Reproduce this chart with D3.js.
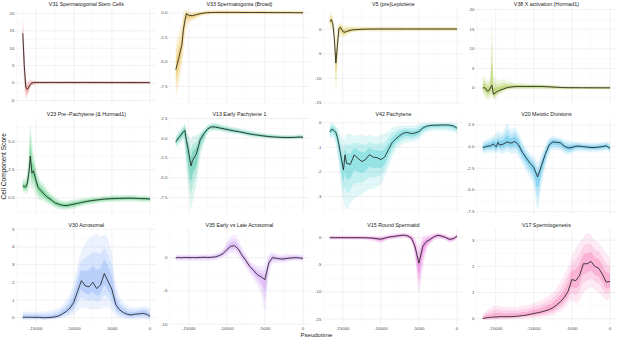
<!DOCTYPE html>
<html><head><meta charset="utf-8">
<script src="https://cdn.jsdelivr.net/npm/d3@7"></script>
<style>body{margin:0;background:#fff} svg{display:block}</style>
</head><body>
<script>
// ---------------- DATA ----------------
const pseudotime = [-16700,-16500,-16300,-16100,-15900,-15700,-15500,-15300,-15100,-14900,-14700,-14500,-14000,-13500,-13000,-12500,-12000,-11500,-11000,-10500,-10000,-9500,-9000,-8500,-8000,-7500,-7000,-6500,-6000,-5500,-5000,-4500,-4000,-3500,-3000,-2500,-2000,-1500,-1000,-500,0];
const xTicks = [-15000,-10000,-5000,0];

const titles = ["V31 Spermatogonial Stem Cells","V33 Spermatogonia (Broad)","V5 (pre)Leptotene","V38 X activation (Hormad1)",
"V23 Pre\u2212Pachytene (& Hormad1)","V13 Early Pachytene 1","V42 Pachytene","V20 Meiotic Divisions",
"V30 Acrosomal","V35 Early vs Late Acrosomal","V15 Round Spermatid","V17 Spermiogenesis"];

const colors = ["#d8463c","#e2a000","#c9b000","#86b400","#00b43c","#00b184","#1fc4c6","#0aa8e4","#6a9ef8","#c07cf0","#e040d4","#f55fa8"];

// smoothed score (line), lower / upper spread of the cell cloud
const v31Line=[14.3,5.0,-1.2,-1.8,-1.2,-0.4,0.0,0.1,0.15,0.15,0.16,0.16,0.15,0.15,0.16,0.16,0.15,0.15,0.16,0.16,0.15,0.15,0.16,0.16,0.15,0.15,0.15,0.15,0.15,0.14,0.14,0.14,0.14,0.13,0.13,0.12,0.12,0.12,0.12,0.12,0.1];
const v31Lo=[6,-1,-4.7,-4.0,-2.8,-1.5,-0.9,-0.7,-0.6,-0.5,-0.45,-0.4,-0.4,-0.4,-0.4,-0.4,-0.4,-0.4,-0.4,-0.4,-0.4,-0.4,-0.4,-0.4,-0.4,-0.4,-0.4,-0.4,-0.4,-0.4,-0.4,-0.4,-0.4,-0.4,-0.4,-0.38,-0.38,-0.38,-0.38,-0.36,-0.35];
const v31Hi=[20.3,12,2.0,0.5,0.8,0.9,0.8,0.7,0.65,0.6,0.6,0.6,0.6,0.6,0.6,0.6,0.6,0.6,0.6,0.6,0.6,0.6,0.6,0.6,0.6,0.6,0.6,0.6,0.6,0.6,0.55,0.55,0.55,0.55,0.55,0.55,0.55,0.55,0.55,0.55,0.5];

const v33Line=[-5.8,-5.2,-4.6,-3.9,-3.3,-1.7,-0.8,-0.05,-0.2,-0.26,-0.27,-0.27,-0.17,-0.08,0.0,0.03,0.05,0.05,0.06,0.06,0.06,0.06,0.06,0.06,0.05,0.05,0.05,0.05,0.05,0.05,0.05,0.05,0.04,0.04,0.04,0.04,0.04,0.04,0.03,0.03,0.03];
const v33Lo=[-8.7,-8.0,-7.5,-6.5,-5.5,-4.0,-2.5,-1.6,-1.2,-1.0,-0.9,-0.85,-0.6,-0.4,-0.25,-0.2,-0.15,-0.15,-0.15,-0.15,-0.15,-0.15,-0.15,-0.15,-0.15,-0.15,-0.15,-0.15,-0.15,-0.15,-0.15,-0.15,-0.15,-0.15,-0.15,-0.15,-0.15,-0.15,-0.16,-0.16,-0.17];
const v33Hi=[-3.0,-2.5,-2.0,-1.5,-1.0,0.1,0.3,0.3,0.2,0.1,0.1,0.1,0.15,0.2,0.25,0.3,0.3,0.3,0.3,0.3,0.3,0.3,0.3,0.3,0.28,0.28,0.28,0.28,0.28,0.28,0.26,0.26,0.26,0.26,0.26,0.25,0.25,0.25,0.25,0.25,0.25];

const v5Line=[1.55,1.9,1.1,-2.0,-6.9,-3.5,0.1,0.35,-0.2,-0.6,-0.65,-0.5,-0.27,-0.15,-0.1,-0.06,-0.03,-0.02,-0.01,0,0,0,0,0,0,0,0,0,0,0,0,0,0,0,0,0,0,0,0,0,0];
const v5Lo=[0.0,0.3,-0.5,-5.0,-12.5,-9.0,-2.5,-1.5,-1.6,-1.8,-1.6,-1.3,-0.9,-0.7,-0.6,-0.5,-0.5,-0.5,-0.5,-0.5,-0.5,-0.5,-0.5,-0.5,-0.5,-0.5,-0.45,-0.45,-0.45,-0.45,-0.45,-0.45,-0.45,-0.45,-0.45,-0.45,-0.45,-0.45,-0.45,-0.45,-0.45];
const v5Hi=[3.38,3.0,2.5,1.0,-1.5,0.0,1.2,1.2,1.0,0.8,0.7,0.7,0.6,0.55,0.5,0.5,0.5,0.5,0.5,0.5,0.5,0.5,0.5,0.5,0.5,0.5,0.45,0.45,0.45,0.45,0.45,0.45,0.45,0.45,0.45,0.45,0.45,0.45,0.45,0.45,0.45];

const v38Line=[0.0,0.1,-0.2,-0.8,-0.7,0.0,0.7,-1.6,-1.3,-1.0,-0.8,-0.6,-0.25,0.1,0.25,0.35,0.4,0.4,0.4,0.4,0.4,0.4,0.4,0.35,0.3,0.25,0.2,0.15,0.1,0.08,0.08,0.08,0.07,0.07,0.06,0.06,0.06,0.05,0.05,0.05,0.05];
const v38Lo=[-1.5,-2.0,-2.5,-2.9,-2.9,-2.5,-2.0,-2.9,-2.8,-2.4,-2.0,-1.6,-1.0,-0.6,-0.4,-0.3,-0.3,-0.3,-0.3,-0.3,-0.3,-0.3,-0.3,-0.35,-0.4,-0.4,-0.4,-0.4,-0.4,-0.4,-0.4,-0.4,-0.4,-0.4,-0.4,-0.4,-0.4,-0.4,-0.4,-0.4,-0.4];
const v38Hi=[2.5,3.0,2.5,2.0,2.0,3.0,17.0,3.0,2.5,2.2,2.0,2.0,2.2,1.8,1.5,1.3,1.2,1.2,1.1,1.1,1.0,1.0,1.0,0.9,0.9,0.8,0.7,0.6,0.5,0.5,0.5,0.5,0.5,0.5,0.5,0.5,0.5,0.5,0.5,0.5,0.5];

const v23Line=[1.08,1.0,0.97,1.3,2.2,3.7,2.2,2.4,1.9,1.4,0.95,0.78,0.4,0.08,-0.15,-0.42,-0.55,-0.65,-0.68,-0.62,-0.55,-0.48,-0.4,-0.33,-0.27,-0.22,-0.18,-0.14,-0.1,-0.08,-0.06,-0.05,-0.04,-0.03,-0.02,-0.02,-0.03,-0.05,-0.06,-0.07,-0.1];
const v23Lo=[0.5,0.5,0.4,0.4,0.8,1.2,0.8,0.8,0.4,0.2,-0.1,-0.2,-0.3,-0.5,-0.7,-0.85,-1.0,-1.05,-1.05,-1.0,-0.95,-0.85,-0.75,-0.65,-0.6,-0.55,-0.5,-0.45,-0.4,-0.38,-0.35,-0.35,-0.33,-0.32,-0.32,-0.32,-0.32,-0.33,-0.35,-0.35,-0.38];
const v23Hi=[1.8,1.6,1.8,2.5,4.0,6.5,5.2,4.0,3.2,2.6,2.0,1.7,1.3,0.8,0.4,0.1,-0.1,-0.2,-0.25,-0.2,-0.15,-0.1,-0.05,0.0,0.05,0.1,0.1,0.15,0.2,0.2,0.25,0.25,0.25,0.25,0.25,0.25,0.25,0.2,0.2,0.2,0.15];

const v13Line=[-0.45,-0.2,0.1,0.3,0.6,0.85,1.0,-0.3,-1.3,-2.4,-3.5,-2.8,-2.0,-0.2,0.6,1.2,1.45,1.42,1.32,1.22,1.12,1.02,0.92,0.85,0.75,0.65,0.55,0.47,0.4,0.33,0.27,0.22,0.18,0.15,0.12,0.1,0.1,0.1,0.12,0.15,0.12];
const v13Lo=[-1.2,-1.0,-0.8,-0.6,-0.4,-0.3,-1.5,-4.0,-6.0,-7.5,-9.0,-8.0,-6.0,-2.5,-0.8,0.6,0.9,0.95,0.9,0.8,0.7,0.6,0.55,0.5,0.4,0.3,0.2,0.15,0.1,0.05,0.0,-0.05,-0.1,-0.1,-0.15,-0.15,-0.15,-0.15,-0.12,-0.1,-0.15];
const v13Hi=[0.3,0.6,0.9,1.1,1.4,1.6,1.98,1.2,0.5,0.2,-0.2,0.3,0.4,0.8,1.2,1.7,1.95,1.95,1.85,1.75,1.6,1.5,1.4,1.3,1.2,1.1,1.0,0.9,0.8,0.72,0.65,0.6,0.55,0.5,0.45,0.42,0.42,0.42,0.45,0.5,0.45];

const v42Line=[-0.38,-0.28,-0.28,-0.33,-0.4,-0.6,-0.9,-1.25,-1.6,-1.92,-1.31,-1.65,-1.7,-1.31,-1.45,-1.58,-1.5,-1.3,-1.4,-1.42,-1.5,-1.4,-1.1,-0.8,-0.65,-0.52,-0.42,-0.4,-0.44,-0.42,-0.36,-0.22,-0.14,-0.11,-0.1,-0.1,-0.09,-0.09,-0.1,-0.13,-0.22];
const v42Lo=[-0.7,-0.6,-0.6,-0.7,-0.9,-1.3,-1.8,-2.4,-2.9,-3.2,-3.4,-3.54,-3.3,-3.1,-3.0,-2.9,-2.8,-2.7,-2.7,-2.6,-2.5,-2.2,-1.8,-1.4,-1.1,-0.95,-0.85,-0.8,-0.8,-0.75,-0.65,-0.5,-0.4,-0.35,-0.33,-0.33,-0.33,-0.33,-0.35,-0.38,-0.45];
const v42Hi=[-0.1,0.0,0.0,-0.05,-0.1,-0.2,-0.3,-0.5,-0.6,-0.7,-0.6,-0.5,-0.45,-0.55,-0.5,-0.5,-0.55,-0.5,-0.55,-0.55,-0.5,-0.45,-0.35,-0.2,-0.15,-0.12,-0.1,-0.1,-0.1,-0.1,-0.05,0,0,0,0,0,0,0,0,0,-0.05];

const v20Line=[-0.08,-0.08,0.0,0.05,0.08,0.1,0.2,0.3,0.1,0.0,0.5,0.2,0.3,0.55,0.4,0.6,0.2,-0.65,-1.3,-1.92,-2.4,-3.5,-2.2,-0.9,0.2,0.55,0.5,0.45,0.05,-0.15,-0.1,0.05,0.05,0.0,-0.05,-0.1,-0.1,-0.05,0.0,0.1,-0.2];
const v20Lo=[-0.8,-0.8,-0.7,-0.7,-0.7,-0.7,-0.7,-0.6,-0.8,-0.8,-0.6,-0.7,-0.8,-0.6,-0.8,-0.7,-1.2,-2.0,-2.8,-3.6,-4.5,-7.2,-4.5,-2.4,-0.9,-0.4,-0.4,-0.5,-0.8,-0.9,-0.8,-0.6,-0.55,-0.55,-0.55,-0.6,-0.6,-0.55,-0.5,-0.45,-0.7];
const v20Hi=[0.6,0.7,0.8,0.8,1.0,1.0,1.2,1.3,1.4,1.5,1.8,1.6,1.8,2.7,2.0,2.2,1.6,0.6,-0.2,-0.8,-1.2,-1.8,-0.8,0.2,1.0,1.2,1.1,1.0,0.8,0.7,0.6,0.6,0.55,0.5,0.5,0.45,0.45,0.5,0.55,0.6,0.4];

const v30Line=[0.03,0.02,0.03,0.02,0.04,0.03,0.02,0.03,0.02,0.03,0.02,0.02,0.0,0.01,0.02,0.05,0.1,0.22,0.36,0.55,0.88,1.5,2.1,1.8,1.75,2.0,1.65,1.85,2.5,2.05,1.6,0.75,0.45,0.3,0.2,0.16,0.2,0.22,0.25,0.21,0.08];
const v30Lo=[-0.14,-0.12,-0.12,-0.12,-0.12,-0.12,-0.12,-0.12,-0.12,-0.12,-0.12,-0.12,-0.12,-0.12,-0.1,-0.1,-0.05,0.0,0.05,0.1,0.2,0.4,0.6,0.6,0.5,0.5,0.5,0.5,0.6,0.6,0.4,0.1,0.0,-0.05,-0.08,-0.1,-0.1,-0.08,-0.08,-0.08,-0.12];
const v30Hi=[0.35,0.35,0.35,0.35,0.35,0.35,0.35,0.35,0.35,0.35,0.35,0.35,0.35,0.4,0.4,0.45,0.55,0.75,1.0,1.4,2.0,3.0,3.8,4.2,4.5,4.6,4.78,4.6,4.7,4.4,3.6,2.0,1.2,0.9,0.7,0.6,0.6,0.6,0.65,0.65,0.5];

const v35Line=[-0.05,0.0,0.02,0.0,-0.02,0.0,0.02,0.03,0.02,0.0,0.0,0.02,0.0,0.03,0.05,0.03,0.05,0.12,0.3,0.6,1.2,1.7,1.8,1.3,0.35,-0.45,-1.3,-1.9,-2.55,-2.9,-3.3,-0.8,0.0,-0.1,-0.2,-0.2,-0.1,-0.05,0.0,-0.05,-0.1];
const v35Lo=[-0.5,-0.5,-0.5,-0.5,-0.5,-0.5,-0.5,-0.5,-0.5,-0.5,-0.5,-0.5,-0.5,-0.5,-0.5,-0.5,-0.45,-0.4,-0.2,0.0,0.3,0.6,0.7,0.2,-0.7,-1.5,-2.5,-3.2,-4.2,-5.5,-8.0,-3.0,-1.0,-0.8,-0.8,-0.8,-0.6,-0.55,-0.5,-0.5,-0.6];
const v35Hi=[0.5,0.5,0.5,0.5,0.5,0.5,0.5,0.5,0.5,0.5,0.5,0.5,0.5,0.5,0.5,0.5,0.55,0.7,0.9,1.4,2.4,3.2,3.5,2.8,1.6,0.6,-0.3,-0.8,-1.2,-1.3,-1.0,0.5,0.8,0.6,0.5,0.5,0.6,0.55,0.5,0.5,0.4];

const v15Line=[0.02,0.0,0.02,0.0,0.0,0.02,0.0,0.0,0.02,0.0,0.0,0.0,0.0,0.0,0.0,0.0,-0.02,-0.05,-0.1,-0.2,-0.28,-0.1,0.1,0.2,0.3,0.4,0.48,0.35,-0.05,-1.7,-4.7,-1.6,-0.7,-0.3,0.2,0.45,0.3,0.05,-0.3,-0.2,0.3];
const v15Lo=[-0.4,-0.4,-0.4,-0.4,-0.4,-0.4,-0.4,-0.4,-0.4,-0.4,-0.4,-0.4,-0.4,-0.4,-0.4,-0.4,-0.45,-0.5,-0.6,-0.8,-1.0,-0.7,-0.4,-0.3,-0.2,-0.1,0.0,-0.2,-0.8,-4.0,-10.0,-6.0,-2.5,-1.2,-0.5,-0.2,-0.3,-0.5,-0.9,-0.8,-0.2];
const v15Hi=[0.4,0.4,0.4,0.4,0.4,0.4,0.4,0.4,0.4,0.4,0.4,0.4,0.4,0.4,0.4,0.4,0.4,0.4,0.4,0.35,0.3,0.5,0.6,0.7,0.8,0.86,0.86,0.8,0.6,0.0,-1.5,0.3,0.5,0.6,0.8,0.86,0.8,0.6,0.3,0.4,0.7];

const v17Line=[0.01,0.02,0.03,0.04,0.05,0.05,0.06,0.06,0.07,0.07,0.07,0.08,0.08,0.08,0.08,0.09,0.1,0.12,0.14,0.17,0.2,0.23,0.26,0.3,0.35,0.42,0.53,0.65,0.82,1.05,1.5,1.45,1.65,2.1,2.1,2.19,2.0,1.93,1.7,1.4,1.42];
const v17Lo=[-0.06,-0.05,-0.05,-0.05,-0.05,-0.05,-0.05,-0.05,-0.05,-0.04,-0.04,-0.04,-0.03,-0.03,-0.02,-0.01,0.0,0.01,0.02,0.02,0.03,0.04,0.05,0.07,0.1,0.12,0.2,0.28,0.4,0.55,0.7,0.6,0.7,1.0,1.1,1.2,1.1,1.0,0.85,0.7,0.8];
const v17Hi=[0.2,0.25,0.3,0.35,0.4,0.4,0.45,0.5,0.5,0.5,0.5,0.5,0.45,0.45,0.45,0.45,0.45,0.5,0.5,0.55,0.6,0.65,0.7,0.8,0.9,1.0,1.2,1.4,1.7,2.0,2.4,2.7,2.9,3.1,3.27,3.2,3.0,2.9,2.7,2.5,2.3];

const lines=[v31Line,v33Line,v5Line,v38Line,v23Line,v13Line,v42Line,v20Line,v30Line,v35Line,v15Line,v17Line];
const lows=[v31Lo,v33Lo,v5Lo,v38Lo,v23Lo,v13Lo,v42Lo,v20Lo,v30Lo,v35Lo,v15Lo,v17Lo];
const highs=[v31Hi,v33Hi,v5Hi,v38Hi,v23Hi,v13Hi,v42Hi,v20Hi,v30Hi,v35Hi,v15Hi,v17Hi];

// y axis ranges and tick values per panel
const yDomains=[[-5.98,21.55],[-9.27,0.51],[-15.17,4.26],[-4.03,20.4],[-1.43,7.05],[-9.61,2.53],[-3.72,0.18],[-7.78,3.27],[-0.38,5.03],[-10.05,4.35],[-16.01,1.66],[-0.22,3.44]];
const yTicks=[[-5,0,5,10,15,20],[-7.5,-5,-2.5,0],[-15,-10,-5,0],[0,5,10,15,20],[0,2.5,5],[-7.5,-5,-2.5,0,2.5],[-3,-2,-1,0],[-7.5,-5,-2.5,0,2.5],[0,1,2,3,4,5],[-10,-5,0],[-15,-10,-5,0],[0,1,2,3]];

// ---------------- DRAW ----------------
const W=617,H=339;
const svg=d3.select("body").append("svg").attr("width",W).attr("height",H)
  .style("font-family","'Liberation Sans', Arial, sans-serif");
const colLeft=[16.4,169.4,323.4,476.4], panelW=140;
const rowTop=[8,118.3,228.7], panelH=95.8;

const ext=d3.extent(pseudotime), pad=(ext[1]-ext[0])*0.05;
const x=d3.scaleLinear().domain([ext[0]-pad,ext[1]+pad]).range([0,panelW]);

// density layers of the cell cloud: fraction of spread around the line, opacity
const layers=[[1,0.13],[0.65,0.16],[0.35,0.28]];

titles.forEach((title,i)=>{
  const col=i%4,row=Math.floor(i/4);
  const g=svg.append("g").attr("transform",`translate(${colLeft[col]},${rowTop[row]})`);
  const y=d3.scaleLinear().domain(yDomains[i]).range([panelH,0]);
  const ticks=yTicks[i];
  const step=ticks[1]-ticks[0];
  const dec=ticks.some(t=>!Number.isInteger(t))?1:0;
  const yMinor=[];
  for(let t=ticks[0]-step/2;t<=yDomains[i][1];t+=step){ if(t>=yDomains[i][0]) yMinor.push(t); }
  const xStep=xTicks[1]-xTicks[0];
  const xMinor=[];
  for(let t=xTicks[0]-xStep*1.5;t<=x.domain()[1];t+=xStep){ if(t>=x.domain()[0]) xMinor.push(t); }
  g.selectAll(".ymn").data(yMinor).join("line").attr("x1",0).attr("x2",panelW)
    .attr("y1",d=>y(d)).attr("y2",d=>y(d)).attr("stroke","#f2f2f2").attr("stroke-width",0.4);
  g.selectAll(".xmn").data(xMinor).join("line").attr("y1",0).attr("y2",panelH)
    .attr("x1",d=>x(d)).attr("x2",d=>x(d)).attr("stroke","#f2f2f2").attr("stroke-width",0.4);
  g.selectAll(".ymj").data(ticks).join("line").attr("x1",0).attr("x2",panelW)
    .attr("y1",d=>y(d)).attr("y2",d=>y(d)).attr("stroke","#e8e8e8").attr("stroke-width",0.6);
  g.selectAll(".xmj").data(xTicks).join("line").attr("y1",0).attr("y2",panelH)
    .attr("x1",d=>x(d)).attr("x2",d=>x(d)).attr("stroke","#e8e8e8").attr("stroke-width",0.6);

  const pts=pseudotime.map((t,k)=>({t,lo:lows[i][k],hi:highs[i][k],m:lines[i][k]}));
  layers.forEach(([f,op])=>{
    const a=d3.area().x(d=>x(d.t)).y0(d=>y(d.m+(d.lo-d.m)*f)).y1(d=>y(d.m+(d.hi-d.m)*f)).curve(d3.curveMonotoneX);
    g.append("path").attr("d",a(pts)).attr("fill",colors[i]).attr("fill-opacity",op);
  });
  g.append("path").attr("d",d3.line().x(d=>x(d.t)).y(d=>y(d.m))(pts))
    .attr("fill","none").attr("stroke","#222").attr("stroke-width",0.85).attr("stroke-linejoin","round");

  g.append("text").attr("x",panelW/2).attr("y",-2.2).attr("text-anchor","middle")
    .attr("font-size",5.3).attr("fill","#1a1a1a").text(title);
  g.selectAll(".yl").data(ticks).join("text").attr("x",-2).attr("y",d=>y(d)+1.5)
    .attr("text-anchor","end").attr("font-size",4.4).attr("fill","#4d4d4d")
    .text(d=>d.toFixed(dec));
  if(row===2){
    g.selectAll(".xl").data(xTicks).join("text").attr("x",d=>x(d)).attr("y",panelH+6)
      .attr("text-anchor","middle").attr("font-size",4.4).attr("fill","#4d4d4d").text(d=>String(d));
  }
});

svg.append("text").attr("transform",`translate(5.5,${(rowTop[0]+rowTop[2]+panelH)/2}) rotate(-90)`)
  .attr("text-anchor","middle").attr("font-size",6.6).attr("fill","#1a1a1a").text("Cell Component Score");
svg.append("text").attr("x",(colLeft[0]+colLeft[3]+panelW)/2).attr("y",337)
  .attr("text-anchor","middle").attr("font-size",6).attr("fill","#1a1a1a").text("Pseudotime");
</script>
</body></html>
